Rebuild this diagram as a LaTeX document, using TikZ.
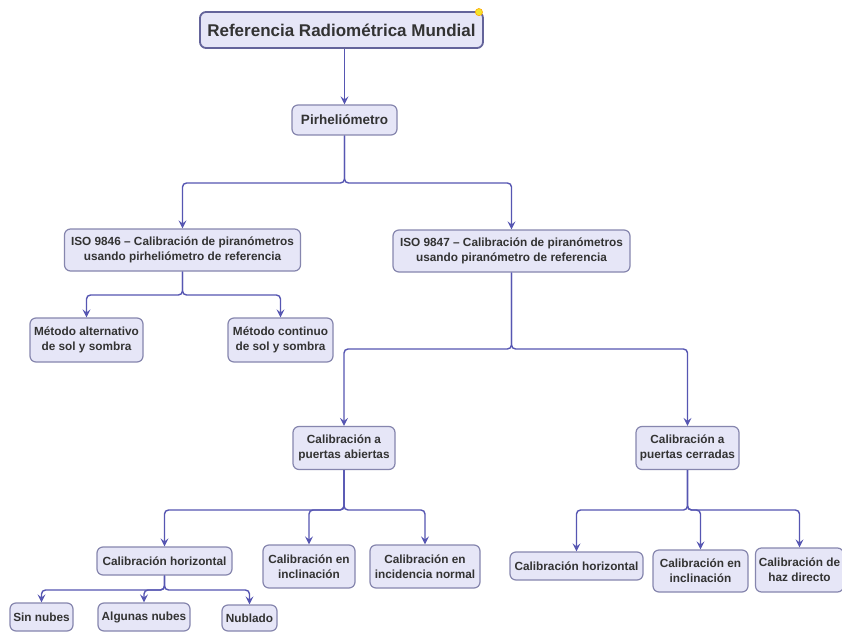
\documentclass[tikz,border=0pt]{standalone}
\usepackage{fontspec}
\setmainfont{Liberation Sans}
\usetikzlibrary{arrows.meta}
\definecolor{linec}{HTML}{5656B2}
\definecolor{nodeb}{HTML}{8686AE}
\definecolor{titleb}{HTML}{64649A}
\definecolor{nodef}{HTML}{E6E6F7}
\definecolor{textc}{HTML}{333333}
\definecolor{dotc}{HTML}{F2E42A}
\begin{document}
\begin{tikzpicture}[x=1pt,y=-1pt,
  box/.style={draw=nodeb, fill=nodef, rounded corners=6pt, line width=1.2pt,
    font=\bfseries\fontsize{11.8}{15}\selectfont, text=textc, align=center, inner sep=2pt},
  conn/.style={draw=linec, line width=1.4pt, rounded corners=4pt,
    -{Stealth[length=8pt,width=8pt,inset=3pt]}}]
\useasboundingbox (0,0) rectangle (842,631);
\fill[white] (0,0) rectangle (842,631);

% nodes
\node[box, draw=titleb, line width=1.8pt, minimum width=283, minimum height=36,
  font=\bfseries\fontsize{17}{20}\selectfont] (title) at (341.5,30) {Referencia Radiométrica Mundial};
\node[box, minimum width=105, minimum height=30, font=\bfseries\fontsize{13.5}{16}\selectfont] (pirh) at (344.5,120) {Pirheliómetro};
\node[box, minimum width=236, minimum height=42] (iso1) at (182.5,250) {ISO 9846 – Calibración de piranómetros\\usando pirheliómetro de referencia};
\node[box, minimum width=237, minimum height=42] (iso2) at (511.5,251) {ISO 9847 – Calibración de piranómetros\\usando piranómetro de referencia};
\node[box, minimum width=113, minimum height=44] (malt) at (86.5,340) {Método alternativo\\de sol y sombra};
\node[box, minimum width=105, minimum height=44] (mcon) at (280.5,340) {Método continuo\\de sol y sombra};
\node[box, minimum width=102, minimum height=43] (abi) at (344,448) {Calibración a\\puertas abiertas};
\node[box, minimum width=103, minimum height=43] (cer) at (687.5,448) {Calibración a\\puertas cerradas};
\node[box, minimum width=135, minimum height=28] (hor1) at (164.5,561) {Calibración horizontal};
\node[box, minimum width=92, minimum height=43] (inc1) at (309,566.5) {Calibración en\\inclinación};
\node[box, minimum width=110, minimum height=43] (nor1) at (425,566.5) {Calibración en\\incidencia normal};
\node[box, minimum width=133, minimum height=28] (hor2) at (576.5,566) {Calibración horizontal};
\node[box, minimum width=95, minimum height=42] (inc2) at (700.5,571) {Calibración en\\inclinación};
\node[box, minimum width=88, minimum height=44] (haz) at (799.5,570) {Calibración de\\haz directo};
\node[box, minimum width=63, minimum height=28] (sin) at (41.5,617) {Sin nubes};
\node[box, minimum width=92, minimum height=28] (alg) at (144,617) {Algunas nubes};
\node[box, minimum width=55, minimum height=26] (nub) at (249.5,618) {Nublado};

% yellow marker
\filldraw[fill=dotc, draw=orange!70!yellow, line width=0.6pt] (title.north east) ++(-5,1) circle (3.6);

% bus coordinates
\coordinate (b1) at (0,183);
\coordinate (b2) at (0,295);
\coordinate (b3) at (0,349);
\coordinate (b4) at (0,510);
\coordinate (b5) at (0,510);
\coordinate (b6) at (0,590);

% connectors
\draw[conn] (title.south -| pirh.north) -- (pirh.north);
\draw[conn] (pirh.south) |- (iso1.north |- b1) -- (iso1.north);
\draw[conn] (pirh.south) |- (iso2.north |- b1) -- (iso2.north);
\draw[conn] (iso1.south) |- (malt.north |- b2) -- (malt.north);
\draw[conn] (iso1.south) |- (mcon.north |- b2) -- (mcon.north);
\draw[conn] (iso2.south) |- (abi.north |- b3) -- (abi.north);
\draw[conn] (iso2.south) |- (cer.north |- b3) -- (cer.north);
\draw[conn] (abi.south) |- (hor1.north |- b4) -- (hor1.north);
\draw[conn] (abi.south) |- (inc1.north |- b4) -- (inc1.north);
\draw[conn] (abi.south) |- (nor1.north |- b4) -- (nor1.north);
\draw[conn] (cer.south) |- (hor2.north |- b5) -- (hor2.north);
\draw[conn] (cer.south) |- (inc2.north |- b5) -- (inc2.north);
\draw[conn] (cer.south) |- (haz.north |- b5) -- (haz.north);
\draw[conn] (hor1.south) |- (sin.north |- b6) -- (sin.north);
\draw[conn] (hor1.south) |- (alg.north |- b6) -- (alg.north);
\draw[conn] (hor1.south) |- (nub.north |- b6) -- (nub.north);
\end{tikzpicture}
\end{document}
